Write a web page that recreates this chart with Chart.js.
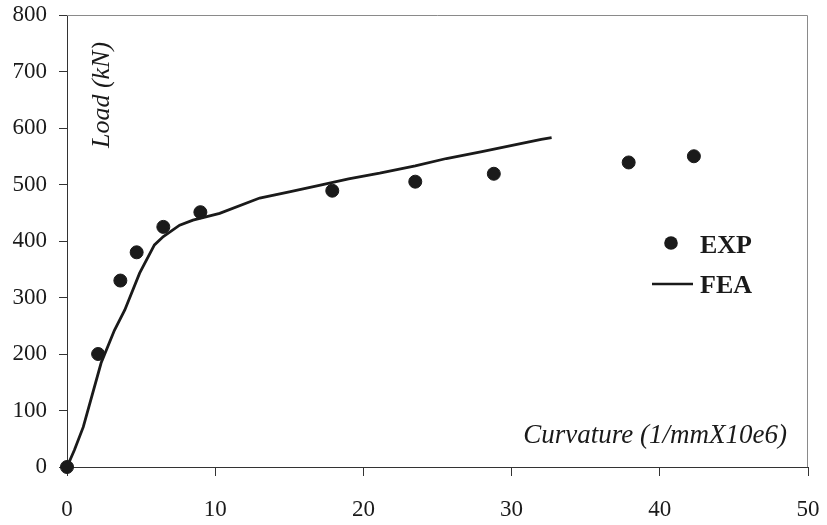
<!DOCTYPE html>
<html lang="en">
<head>
    <meta charset="UTF-8">
    <title>Load vs Curvature</title>
    <script src="https://cdn.jsdelivr.net/npm/chart.js"></script>
    <style>
        html, body { margin: 0; padding: 0; background: #fff; }
        #wrap { width: 827px; height: 525px; }
    </style>
</head>
<body>
    <div id="wrap"><canvas id="loadChart" width="827" height="525"></canvas></div>
    <script>
        // experimental points
        const expX = [0, 2.1, 3.6, 4.7, 6.5, 9.0, 17.9, 23.5, 28.8, 37.9, 42.3];
        const expY = [0, 200, 330, 380, 425, 451, 489, 505, 519, 539, 550];

        // FEA curve
        const feaX = [0, 0.5, 1.1, 2.3, 3.2, 3.9, 4.9, 5.9, 6.5, 7.6, 8.5, 10.3, 13.0, 15.0, 17.1, 19.0, 21.1, 23.5, 25.6, 28.0, 30.2, 32.0, 32.7];
        const feaY = [0, 30, 71, 184, 242, 278, 343, 393, 408, 428, 437, 449, 476, 487, 499, 510, 520, 533, 546, 558, 570, 580, 583];

        const xTicks = [0, 10, 20, 30, 40, 50];
        const yTicks = [0, 100, 200, 300, 400, 500, 600, 700, 800];

        const ink = '#1a1a1a';
        const serif = "'Liberation Serif', 'Times New Roman', serif";

        function noOverhang(axis) {
            axis.paddingTop = 0;
            axis.paddingBottom = 0;
            axis.paddingLeft = 0;
            axis.paddingRight = 0;
        }

        // frame, axis titles and legend drawn inside the plot area
        const extras = {
            id: 'extras',
            afterDraw(chart) {
                const c = chart.ctx;
                const a = chart.chartArea;
                c.save();
                c.strokeStyle = '#8a8a8a';
                c.lineWidth = 1;
                c.beginPath();
                c.moveTo(a.left, a.top + 0.5);
                c.lineTo(a.right - 0.5, a.top + 0.5);
                c.lineTo(a.right - 0.5, a.bottom);
                c.stroke();

                c.fillStyle = ink;
                c.font = 'italic 27px ' + serif;
                c.textAlign = 'right';
                c.textBaseline = 'alphabetic';
                c.fillText('Curvature (1/mmX10e6)', 787, 443);

                c.save();
                c.font = 'italic 26px ' + serif;
                c.translate(109, 95);
                c.rotate(-Math.PI / 2);
                c.textAlign = 'center';
                c.fillText('Load (kN)', 0, 0);
                c.restore();

                // legend
                c.font = 'bold 26px ' + serif;
                c.textAlign = 'left';
                c.beginPath();
                c.arc(671, 243, 6.8, 0, Math.PI * 2);
                c.fill();
                c.fillText('EXP', 700, 253);
                c.strokeStyle = ink;
                c.lineWidth = 2.5;
                c.beginPath();
                c.moveTo(652, 284);
                c.lineTo(693, 284);
                c.stroke();
                c.fillText('FEA', 700, 293);
                c.restore();
            }
        };

        const ctx = document.getElementById('loadChart').getContext('2d');
        new Chart(ctx, {
            type: 'scatter',
            data: {
                datasets: [
                    {
                        label: 'FEA',
                        data: feaX.map((x, i) => ({ x: x, y: feaY[i] })),
                        showLine: true,
                        borderColor: ink,
                        borderWidth: 2.8,
                        pointRadius: 0,
                        tension: 0,
                        fill: false,
                    },
                    {
                        label: 'EXP',
                        data: expX.map((x, i) => ({ x: x, y: expY[i] })),
                        backgroundColor: ink,
                        borderColor: ink,
                        pointRadius: 6.5,
                        showLine: false,
                    },
                ],
            },
            options: {
                responsive: false,
                animation: false,
                clip: false,
                layout: { padding: { top: 15, right: 19, left: 0, bottom: 0 } },
                plugins: { legend: { display: false }, tooltip: { enabled: false } },
                scales: {
                    x: {
                        type: 'linear',
                        min: 0,
                        max: 50,
                        afterBuildTicks: axis => { axis.ticks = xTicks.map(v => ({ value: v })); },
                        afterFit: axis => { axis.height = 58; noOverhang(axis); },
                        grid: { drawOnChartArea: false, drawTicks: true, tickLength: 9, color: '#333', lineWidth: 1 },
                        border: { color: '#333', width: 1 },
                        ticks: { color: ink, font: { family: serif, size: 23 }, padding: 20, maxRotation: 0 },
                    },
                    y: {
                        type: 'linear',
                        min: 0,
                        max: 800,
                        afterBuildTicks: axis => { axis.ticks = yTicks.map(v => ({ value: v })); },
                        afterFit: axis => { axis.width = 67; noOverhang(axis); },
                        grid: { drawOnChartArea: false, drawTicks: true, tickLength: 8, color: '#333', lineWidth: 1 },
                        border: { color: '#333', width: 1 },
                        ticks: { color: ink, font: { family: serif, size: 23 }, padding: 12 },
                    },
                },
            },
            plugins: [extras],
        });
    </script>
</body>
</html>
